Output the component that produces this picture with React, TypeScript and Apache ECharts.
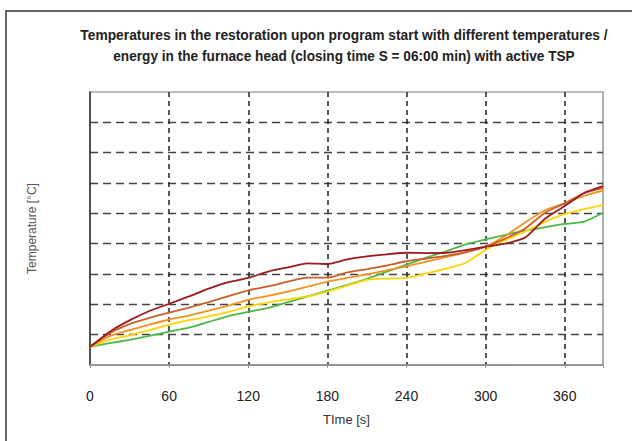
import React, { useEffect, useRef } from "react";
import * as echarts from "echarts";

const times = [0, 15, 30, 45, 60, 75, 90, 105, 120, 135, 150, 165, 180, 195, 210, 225, 240, 255, 270, 285, 300, 315, 330, 345, 360, 375, 389];

const darkRed = [0.60, 1.10, 1.47, 1.78, 2.02, 2.26, 2.52, 2.73, 2.87, 3.08, 3.22, 3.35, 3.33, 3.48, 3.58, 3.65, 3.70, 3.69, 3.70, 3.79, 3.90, 4.00, 4.20, 4.82, 5.24, 5.68, 5.90];
const darkOrange = [0.60, 1.05, 1.35, 1.55, 1.73, 1.89, 2.07, 2.27, 2.46, 2.59, 2.75, 2.88, 2.88, 3.05, 3.16, 3.28, 3.42, 3.51, 3.60, 3.72, 3.90, 4.17, 4.50, 5.02, 5.33, 5.67, 5.83];
const orange = [0.60, 0.95, 1.15, 1.33, 1.50, 1.63, 1.79, 1.96, 2.15, 2.28, 2.42, 2.58, 2.75, 2.87, 2.99, 3.12, 3.25, 3.41, 3.56, 3.71, 3.90, 4.26, 4.70, 5.10, 5.33, 5.58, 5.75];
const yellow = [0.60, 0.83, 0.98, 1.15, 1.33, 1.48, 1.60, 1.75, 1.93, 2.06, 2.16, 2.26, 2.42, 2.62, 2.81, 2.85, 2.87, 3.02, 3.18, 3.37, 3.79, 4.12, 4.40, 4.72, 4.98, 5.14, 5.28];
const green = [0.60, 0.72, 0.83, 0.96, 1.10, 1.23, 1.42, 1.61, 1.75, 1.88, 2.07, 2.26, 2.45, 2.64, 2.84, 3.08, 3.31, 3.54, 3.75, 3.98, 4.14, 4.29, 4.43, 4.54, 4.65, 4.73, 5.02];

const seriesDefs = [
  { name: "S1", values: green, color: "#4DB84A" },
  { name: "S2", values: yellow, color: "#FFD400" },
  { name: "S3", values: orange, color: "#F39223" },
  { name: "S4", values: darkOrange, color: "#C9602C" },
  { name: "S5", values: darkRed, color: "#9B1B1F" },
];

const titleLines = [
  "Temperatures in the restoration upon program start with different temperatures /",
  "energy in the furnace head (closing time S = 06:00 min) with active TSP",
];
const titleWidths = [528, 462];

const FONT = "'Liberation Sans', Arial, sans-serif";
const TITLE_FONT = `bold 15px ${FONT}`;

function measure(text: string, font: string): number {
  const c = document.createElement("canvas");
  const ctx = c.getContext("2d");
  if (!ctx) return 1;
  ctx.font = font;
  return ctx.measureText(text).width || 1;
}

export default function App() {
  const ref = useRef<HTMLDivElement>(null);
  useEffect(() => {
    if (!ref.current) return;
    const chart = echarts.init(ref.current, null, { renderer: "svg" });
    chart.setOption({
      animation: false,
      backgroundColor: "#fff",
      textStyle: { fontFamily: FONT },
      grid: { left: 90, right: 29, top: 92, bottom: 76, show: true, borderColor: "#7a7a7a", borderWidth: 1.2 },
      graphic: [
        { type: "rect", shape: { x: 6, y: 11, width: 700, height: 500 }, style: { fill: "none", stroke: "#333", lineWidth: 1.5 } },
        ...titleLines.map((t, i) => ({
          type: "text",
          x: 344,
          y: 35 + i * 21,
          scaleX: titleWidths[i] / measure(t, TITLE_FONT),
          style: { text: t, textAlign: "center", textVerticalAlign: "middle", fill: "#222", font: TITLE_FONT },
        })),
      ],
      xAxis: {
        type: "value",
        min: 0,
        max: 389,
        interval: 60,
        name: "TIme [s]",
        nameLocation: "middle",
        nameGap: 48,
        nameTextStyle: { color: "#333", fontSize: 13, fontFamily: FONT },
        axisLine: { show: true, lineStyle: { color: "#8a8a8a", width: 1.5 } },
        axisTick: { show: true, inside: false, length: 3, lineStyle: { color: "#999" } },
        axisLabel: {
          margin: 24,
          color: "#222",
          fontSize: 14,
          fontFamily: FONT,
          formatter: (v: number) => (v % 60 === 0 ? String(v) : ""),
        },
        splitLine: { show: true, showMinLine: false, showMaxLine: false, lineStyle: { color: "#222", width: 1.5, type: [5, 4] } },
      },
      yAxis: {
        type: "value",
        min: 0,
        max: 9,
        interval: 1,
        name: "Temperature [°C]",
        nameLocation: "middle",
        nameGap: 52,
        nameRotate: 90,
        nameTextStyle: { color: "#555", fontSize: 12, fontFamily: FONT },
        axisLine: { show: true, lineStyle: { color: "#333", width: 1.5 } },
        axisTick: { show: false },
        axisLabel: { show: false },
        splitLine: { show: true, showMinLine: false, showMaxLine: false, lineStyle: { color: "#444", width: 1.3, type: [8, 5] } },
      },
      series: seriesDefs.map((s) => ({
        type: "line",
        name: s.name,
        data: times.map((t, i) => [t, s.values[i]]),
        showSymbol: false,
        symbol: "none",
        smooth: 0.2,
        lineStyle: { color: s.color, width: 1.8 },
        itemStyle: { color: s.color },
      })),
    });
    return () => chart.dispose();
  }, []);
  return <div ref={ref} style={{ position: "fixed", left: 0, top: 0, width: 632, height: 441 }} />;
}
